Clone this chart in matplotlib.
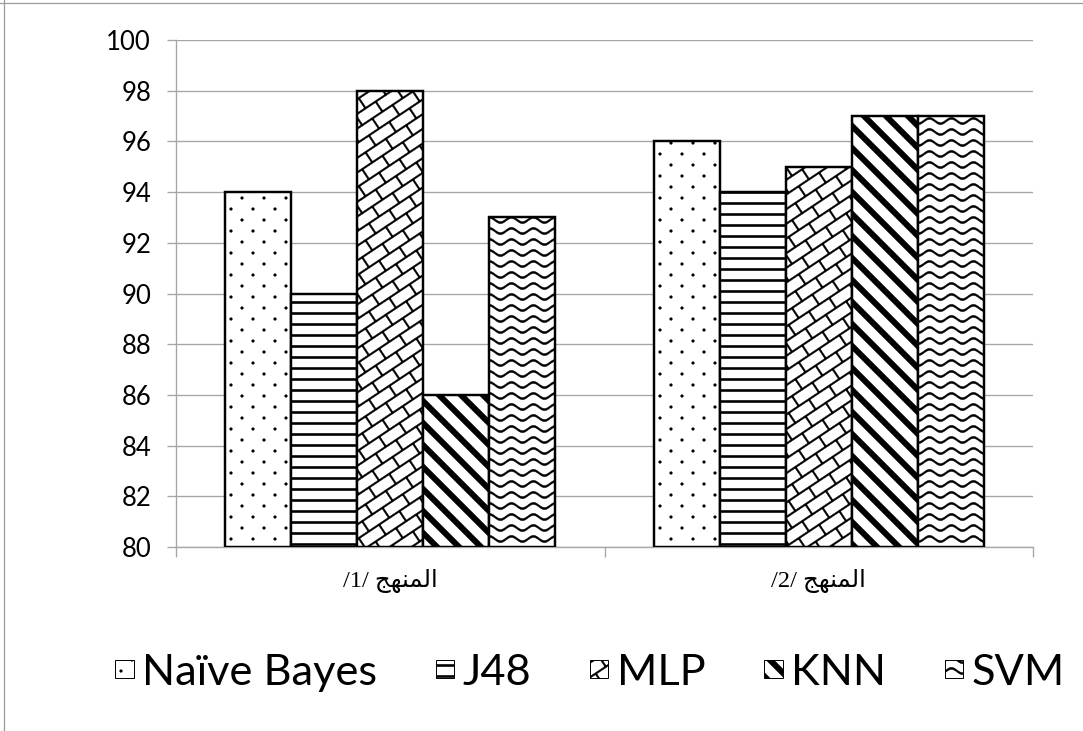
import warnings
warnings.filterwarnings('ignore')
import numpy as np
import matplotlib
matplotlib.use('Agg')
import matplotlib.pyplot as plt
from matplotlib import hatch as mhatch
from matplotlib.path import Path
import matplotlib.patches as mpatches
from matplotlib.lines import Line2D

# ---------------- data ----------------
categories = ['المنهج /1/', 'المنهج /2/']
series_names = ['Naïve Bayes', 'J48', 'MLP', 'KNN', 'SVM']
naive_bayes = [94, 96]
j48 = [90, 94]
mlp = [98, 95]
knn = [86, 97]
svm = [93, 97]
y_ticks = [80, 82, 84, 86, 88, 90, 92, 94, 96, 98, 100]

# ---------------- arabic display (shaping + visual order) ----------------
_FORMS = {  # isolated, final, initial, medial
    'ا': ('\uFE8D', '\uFE8E', None, None),
    'ل': ('\uFEDD', '\uFEDE', '\uFEDF', '\uFEE0'),
    'م': ('\uFEE1', '\uFEE2', '\uFEE3', '\uFEE4'),
    'ن': ('\uFEE5', '\uFEE6', '\uFEE7', '\uFEE8'),
    'ه': ('\uFEE9', '\uFEEA', '\uFEEB', '\uFEEC'),
    'ج': ('\uFE9D', '\uFE9E', '\uFE9F', '\uFEA0'),
}


def _shape_word(w):
    out = []
    for i, ch in enumerate(w):
        if ch not in _FORMS:
            out.append(ch)
            continue
        prev = w[i - 1] if i > 0 else None
        nxt = w[i + 1] if i + 1 < len(w) else None
        jp = prev in _FORMS and _FORMS[prev][2] is not None
        jn = nxt in _FORMS and _FORMS[ch][2] is not None
        iso, fin, ini, med = _FORMS[ch]
        if jp and jn:
            out.append(med)
        elif jp:
            out.append(fin)
        elif jn:
            out.append(ini)
        else:
            out.append(iso)
    return ''.join(out)


def rtl_display(s):
    toks = s.split(' ')
    vis = []
    for t in reversed(toks):
        if any(c in _FORMS for c in t):
            vis.append(_shape_word(t)[::-1])
        else:
            vis.append(t)
    return ' '.join(vis)

# ---------------- custom hatch patterns (tile = dpi px) ----------------
DPI = 88
PX = 1.0 / DPI


def _quad(p0, p1, w):
    p0 = np.asarray(p0, float)
    p1 = np.asarray(p1, float)
    d = p1 - p0
    d = d / np.hypot(d[0], d[1])
    n = np.array([-d[1], d[0]]) * w / 2
    return np.array([p0 - n, p1 - n, p1 + n, p0 + n])


def _circle(cx, cy, r, k=10):
    t = np.linspace(0, 2 * np.pi, k, endpoint=False)
    return np.column_stack([cx + r * np.cos(t), cy + r * np.sin(t)])


def make_hatch(char, polys):
    nv = sum(len(p) + 1 for p in polys)

    class _H(mhatch.HatchPatternBase):
        def __init__(self, hatch, density):
            self.num_vertices = nv if (hatch and char in hatch) else 0

        def set_vertices_and_codes(self, vertices, codes):
            i = 0
            for p in polys:
                n = len(p)
                vertices[i:i + n] = p
                vertices[i + n] = p[0]
                codes[i] = Path.MOVETO
                codes[i + 1:i + n] = Path.LINETO
                codes[i + n] = Path.CLOSEPOLY
                i += n + 1

    mhatch._hatch_types.append(_H)


# dots (staggered)
dots = []
for j in range(-1, 10):
    off = 0.125 if j % 2 else 0.0
    for i in range(-1, 6):
        dots.append(_circle(i * 0.25 + off, j * 0.125, 1.4 * PX))
make_hatch('a', dots)

# horizontal lines
hl = []
for j in range(-1, 10):
    y = j * 0.125 + 0.0625
    hl.append(_quad((-0.1, y), (1.1, y), 2.4 * PX))
make_hatch('b', hl)

# diagonal brick
m = 2.0 / 3.0
L = 1.0 / 3.0
bw = 1.7 * PX
brick = []
for k in range(-6, 9):
    c = k / 6.0
    brick.append(_quad((-0.3, c - 0.3 * m), (1.3, c + 1.3 * m), bw))
for k in range(-6, 9):
    c0 = k / 6.0
    c1 = (k + 1) / 6.0
    for jj in range(-4, 10):
        s = jj * L + (k % 2) * L / 2
        x0 = (s - m * c0) / (1 + m * m)
        y0 = m * x0 + c0
        x1 = (s - m * c1) / (1 + m * m)
        y1 = m * x1 + c1
        if -0.3 < x0 < 1.3 and -0.3 < y0 < 1.3:
            brick.append(_quad((x0, y0), (x1, y1), bw))
make_hatch('c', brick)

# wide downward diagonal
diag = []
wh = 8.0 * PX
for k in range(-2, 11):
    c = k * 0.25
    diag.append(_quad((-0.3, c + 0.3), (1.3, c - 1.3), wh / np.sqrt(2)))
make_hatch('d', diag)

# wave
wave = []
xs = np.linspace(-0.05, 1.05, 141)
for j in range(-1, 10):
    y0 = j * 0.125
    yc = y0 + 2.6 * PX * np.sin(2 * np.pi * xs / 0.25)
    th = 2.2 * PX / 2
    lower = np.column_stack([xs, yc - th])
    upper = np.column_stack([xs[::-1], yc[::-1] + th])
    wave.append(np.vstack([lower, upper]))
make_hatch('e', wave)

# ---------------- figure ----------------
plt.rcParams['font.family'] = ['Lato', 'DejaVu Sans']
plt.rcParams['hatch.linewidth'] = 0.3

W, H = 1083, 731
fig = plt.figure(figsize=(W / DPI, H / DPI), dpi=DPI)
fig.patch.set_facecolor('white')
ax = fig.add_axes([176 / W, 1 - 547 / H, (1033 - 176) / W, (547 - 40) / H])

GRAY = '#a6a6a6'
series = [naive_bayes, j48, mlp, knn, svm]
hatches = ['a', 'b', 'c', 'd', 'e']
x = np.arange(len(categories))
width = 0.154
base = y_ticks[0]
for i, (name, vals, h) in enumerate(zip(series_names, series, hatches)):
    offs = (i - (len(series) - 1) / 2) * width
    ax.bar(x + offs, np.array(vals) - base, width, bottom=base,
           facecolor='white', edgecolor='black', linewidth=2.0,
           hatch=h, zorder=3, label=name)

ax.set_ylim(y_ticks[0], y_ticks[-1])
ax.set_yticks(y_ticks)
ax.set_xlim(-0.5, len(categories) - 0.5)
ax.yaxis.grid(True, color=GRAY, linewidth=1.1)
ax.set_axisbelow(True)

ax.set_xticks(x)
ax.set_xticklabels([rtl_display(c) for c in categories],
                   fontfamily=['Liberation Serif', 'DejaVu Sans'], fontsize=20)
ax.set_xticks(np.arange(len(categories) + 1) - 0.5, minor=True)
ax.tick_params(axis='x', which='major', length=0, pad=18)
ax.tick_params(axis='x', which='minor', length=8.2, color=GRAY, width=1.1,
               direction='out')
ax.tick_params(axis='y', length=7.4, color=GRAY, width=1.1, pad=13,
               labelsize=21)
for s in ['top', 'right']:
    ax.spines[s].set_visible(False)
for s in ['left', 'bottom']:
    ax.spines[s].set_color(GRAY)
    ax.spines[s].set_linewidth(1.1)

handles = [mpatches.Patch(facecolor='white', edgecolor='black', linewidth=0.8,
                          hatch=h) for h in hatches]
fig.legend(handles, series_names, loc='center', bbox_to_anchor=(0.545, 0.080),
           ncol=5, frameon=False, fontsize=35.5, handlelength=0.42,
           handleheight=0.27, handletextpad=0.2, columnspacing=1.35,
           borderpad=0, borderaxespad=0)

# outer chart frame (left & top edges visible)
fig.add_artist(Line2D([4 / W, 4 / W], [0, 1], transform=fig.transFigure,
                      color='#9a9a9a', linewidth=1.0))
fig.add_artist(Line2D([0, 1], [1 - 3 / H, 1 - 3 / H], transform=fig.transFigure,
                      color='#9a9a9a', linewidth=1.0))

fig.savefig('out.png', dpi=DPI, facecolor='white')
